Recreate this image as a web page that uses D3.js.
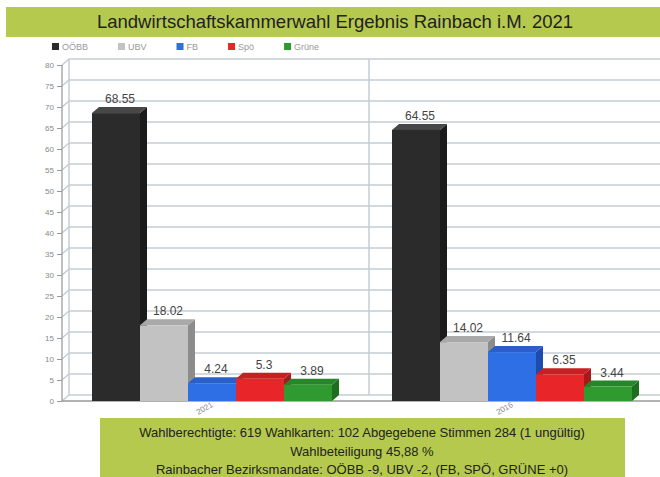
<!DOCTYPE html>
<meta charset='utf-8'>
<head>
  <style>
    body { margin: 0; background: #fff; }
    svg { display: block; font-family: 'Liberation Sans', Arial, sans-serif; }
    .axis path { display: none; }
    .axis line { stroke: #999; }
    .axis text { fill: #888; font-size: 8px; }
  </style>
</head>
<body>
<script src='https://d3js.org/d3.v7.min.js'></script>
<script>

var years = ['2021', '2016'];
var parties = ['OÖBB', 'UBV', 'FB', 'Spö', 'Grüne'];
var votes2021 = [68.55, 18.02, 4.24, 5.3, 3.89];
var votes2016 = [64.55, 14.02, 11.64, 6.35, 3.44];
var yTicks = [0, 5, 10, 15, 20, 25, 30, 35, 40, 45, 50, 55, 60, 65, 70, 75, 80];
var title = 'Landwirtschaftskammerwahl Ergebnis Rainbach i.M. 2021';
var infoLines = [
  'Wahlberechtigte: 619 Wahlkarten: 102 Abgegebene Stimmen 284 (1 ungültig)',
  'Wahlbeteiligung 45,88 %',
  'Rainbacher Bezirksmandate: OÖBB -9, UBV -2, (FB, SPÖ, GRÜNE +0)'
];

// front / top / side colours per party
var colors = {
  'OÖBB':  ['#2b2b2b', '#474747', '#1b1b1b'],
  'UBV':   ['#c2c2c2', '#a9a9a9', '#8c8c8c'],
  'FB':    ['#2f6fe6', '#2a5fca', '#1e4cae'],
  'Spö':   ['#e8262a', '#c91f22', '#a8191b'],
  'Grüne': ['#2f9a2f', '#27862a', '#1d6e1f']
};

var data = years.map((yr, i) => ({
  year: yr,
  values: parties.map((p, j) => ({party: p, value: (i == 0 ? votes2021 : votes2016)[j]}))
}));

var W = 660, H = 477;
var depth = {x: 7, y: 6};
var axisX = 62;

var svg = d3.select('body').append('svg')
    .attr('width', W)
    .attr('height', H);

// title band
svg.append('rect')
    .attr('x', 6).attr('y', 7).attr('width', W - 6).attr('height', 30)
    .attr('fill', '#b5c94f');
svg.append('text')
    .attr('x', 335).attr('y', 28)
    .attr('text-anchor', 'middle')
    .attr('font-size', 18.5)
    .attr('fill', '#222')
    .text(title);

var x0 = d3.scaleBand().domain(years).range([axisX, axisX + 600]);
var x1 = d3.scaleBand().domain(parties).range([0, x0.bandwidth()]).paddingOuter(0.625);
var y = d3.scaleLinear().domain([0, 80]).range([401, 65]);

// back wall grid
var grid = svg.append('g').attr('stroke', '#c3ccd4').attr('stroke-width', 1.5).attr('fill', 'none');
yTicks.forEach(t => {
  grid.append('line')
      .attr('x1', axisX + depth.x).attr('x2', W)
      .attr('y1', y(t) - depth.y).attr('y2', y(t) - depth.y);
  grid.append('line')
      .attr('x1', axisX).attr('x2', axisX + depth.x)
      .attr('y1', y(t)).attr('y2', y(t) - depth.y);
});
grid.append('line')
    .attr('x1', axisX + depth.x).attr('x2', axisX + depth.x)
    .attr('y1', y(0) - depth.y).attr('y2', y(80) - depth.y);
grid.append('line')
    .attr('x1', x0('2016') + depth.x).attr('x2', x0('2016') + depth.x)
    .attr('y1', y(0) - depth.y).attr('y2', y(80) - depth.y);

// axis and floor
svg.append('line')
    .attr('x1', axisX).attr('x2', axisX)
    .attr('y1', y(0)).attr('y2', y(80))
    .attr('stroke', '#aaa').attr('stroke-width', 1.5);
svg.append('line')
    .attr('x1', axisX).attr('x2', W)
    .attr('y1', y(0)).attr('y2', y(0))
    .attr('stroke', '#999').attr('stroke-width', 1.5);

svg.append('g')
    .attr('class', 'axis')
    .attr('transform', 'translate(' + axisX + ',0)')
    .call(d3.axisLeft(y).tickValues(yTicks).tickSize(5).tickPadding(3));

svg.append('g')
    .attr('class', 'axis')
    .attr('transform', 'translate(0,' + y(0) + ')')
    .call(d3.axisBottom(x0).tickSize(0).tickPadding(2))
  .selectAll('text')
    .style('text-anchor', 'middle')
    .attr('transform', 'translate(-10,3) rotate(-30)');

// 3d bars
var groups = svg.selectAll('.grp')
    .data(data)
  .enter().append('g')
    .attr('transform', d => 'translate(' + x0(d.year) + ',0)');

var bars = groups.selectAll('.bar')
    .data(d => d.values)
  .enter().append('g');

var bw = x1.bandwidth();

bars.append('path')
    .attr('fill', d => colors[d.party][2])
    .attr('d', d => {
      var xr = x1(d.party) + bw, yt = y(d.value), yb = y(0);
      return 'M' + xr + ',' + yt + 'L' + (xr + depth.x) + ',' + (yt - depth.y) +
             'L' + (xr + depth.x) + ',' + (yb - depth.y) + 'L' + xr + ',' + yb + 'Z';
    });

bars.append('path')
    .attr('fill', d => colors[d.party][1])
    .attr('d', d => {
      var xl = x1(d.party), yt = y(d.value);
      return 'M' + xl + ',' + yt + 'L' + (xl + depth.x) + ',' + (yt - depth.y) +
             'L' + (xl + bw + depth.x) + ',' + (yt - depth.y) + 'L' + (xl + bw) + ',' + yt + 'Z';
    });

bars.append('rect')
    .attr('fill', d => colors[d.party][0])
    .attr('x', d => x1(d.party))
    .attr('y', d => y(d.value))
    .attr('width', bw)
    .attr('height', d => y(0) - y(d.value));

bars.append('text')
    .attr('x', d => x1(d.party) + bw / 2 + 4)
    .attr('y', d => y(d.value) - 10)
    .attr('text-anchor', 'middle')
    .attr('font-size', 12)
    .attr('fill', '#444')
    .text(d => d.value);

// legend
var lx = 52;
parties.forEach(p => {
  svg.append('rect')
      .attr('x', lx).attr('y', 43).attr('width', 7).attr('height', 7)
      .attr('fill', colors[p][0]);
  var t = svg.append('text')
      .attr('x', lx + 10).attr('y', 50)
      .attr('font-size', 9)
      .attr('fill', '#999')
      .text(p);
  lx += 10 + t.node().getComputedTextLength() + 30;
});

// info box
svg.append('rect')
    .attr('x', 100).attr('y', 418).attr('width', 525).attr('height', H - 418)
    .attr('fill', '#b5c94f');
infoLines.forEach((s, i) => {
  svg.append('text')
      .attr('x', 362).attr('y', 437 + i * 18.5)
      .attr('text-anchor', 'middle')
      .attr('font-size', 13)
      .attr('fill', '#222')
      .text(s);
});

</script>
</body>
